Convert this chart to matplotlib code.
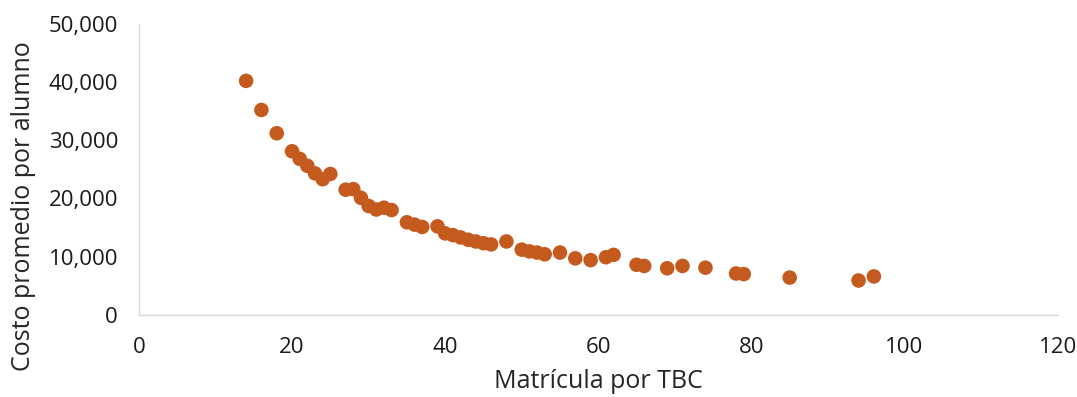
import matplotlib
matplotlib.use("Agg")
import matplotlib.pyplot as plt
from matplotlib.ticker import FuncFormatter

matricula = [14, 16, 18, 20, 21, 22, 23, 24, 25, 27, 28, 29, 30, 31, 32, 33,
             35, 36, 37, 39, 40, 41, 42, 43, 44, 45, 46, 48, 50, 51, 52, 53,
             55, 57, 59, 61, 62, 65, 66, 69, 71, 74, 78, 79, 85, 94, 96]
costo = [40200, 35200, 31200, 28100, 26800, 25600, 24300, 23300, 24200, 21500, 21600, 20100, 18700, 18100, 18400, 18000,
         15900, 15500, 15100, 15200, 14000, 13700, 13300, 12900, 12600, 12300, 12100, 12600, 11200, 10900, 10700, 10400,
         10700, 9700, 9400, 9900, 10300, 8600, 8400, 8000, 8400, 8100, 7100, 7000, 6400, 5900, 6600]

x_ticks = [0, 20, 40, 60, 80, 100, 120]
y_ticks = [0, 10000, 20000, 30000, 40000, 50000]

plt.rcParams['font.family'] = ['Open Sans', 'DejaVu Sans']

fig = plt.figure(figsize=(10.77, 3.97), dpi=100)
ax = fig.add_axes([0.129, 0.207, 0.853, 0.733])
ax.scatter(matricula, costo, s=110, color='#C55A1F', edgecolors='none', zorder=3)

ax.set_xlim(0, 120)
ax.set_ylim(0, 50000)
ax.set_xticks(x_ticks)
ax.set_yticks(y_ticks)
ax.yaxis.set_major_formatter(FuncFormatter(lambda v, p: f"{int(v):,}"))

for s in ['top', 'right']:
    ax.spines[s].set_visible(False)
for s in ['left', 'bottom']:
    ax.spines[s].set_color('#D9D9D9')
    ax.spines[s].set_linewidth(1.0)

ax.tick_params(axis='both', length=0, labelsize=16, colors='#1a1a1a')
ax.tick_params(axis='y', pad=15)
ax.tick_params(axis='x', pad=16)

ax.set_xlabel('Matrícula por TBC', fontsize=18, color='#262626')
ax.xaxis.set_label_coords(0.5, -0.186)
ax.set_ylabel('Costo promedio por alumno', fontsize=18, color='#262626')
ax.yaxis.set_label_coords(-0.112, 0.372)

fig.savefig('out.png', dpi=100)
